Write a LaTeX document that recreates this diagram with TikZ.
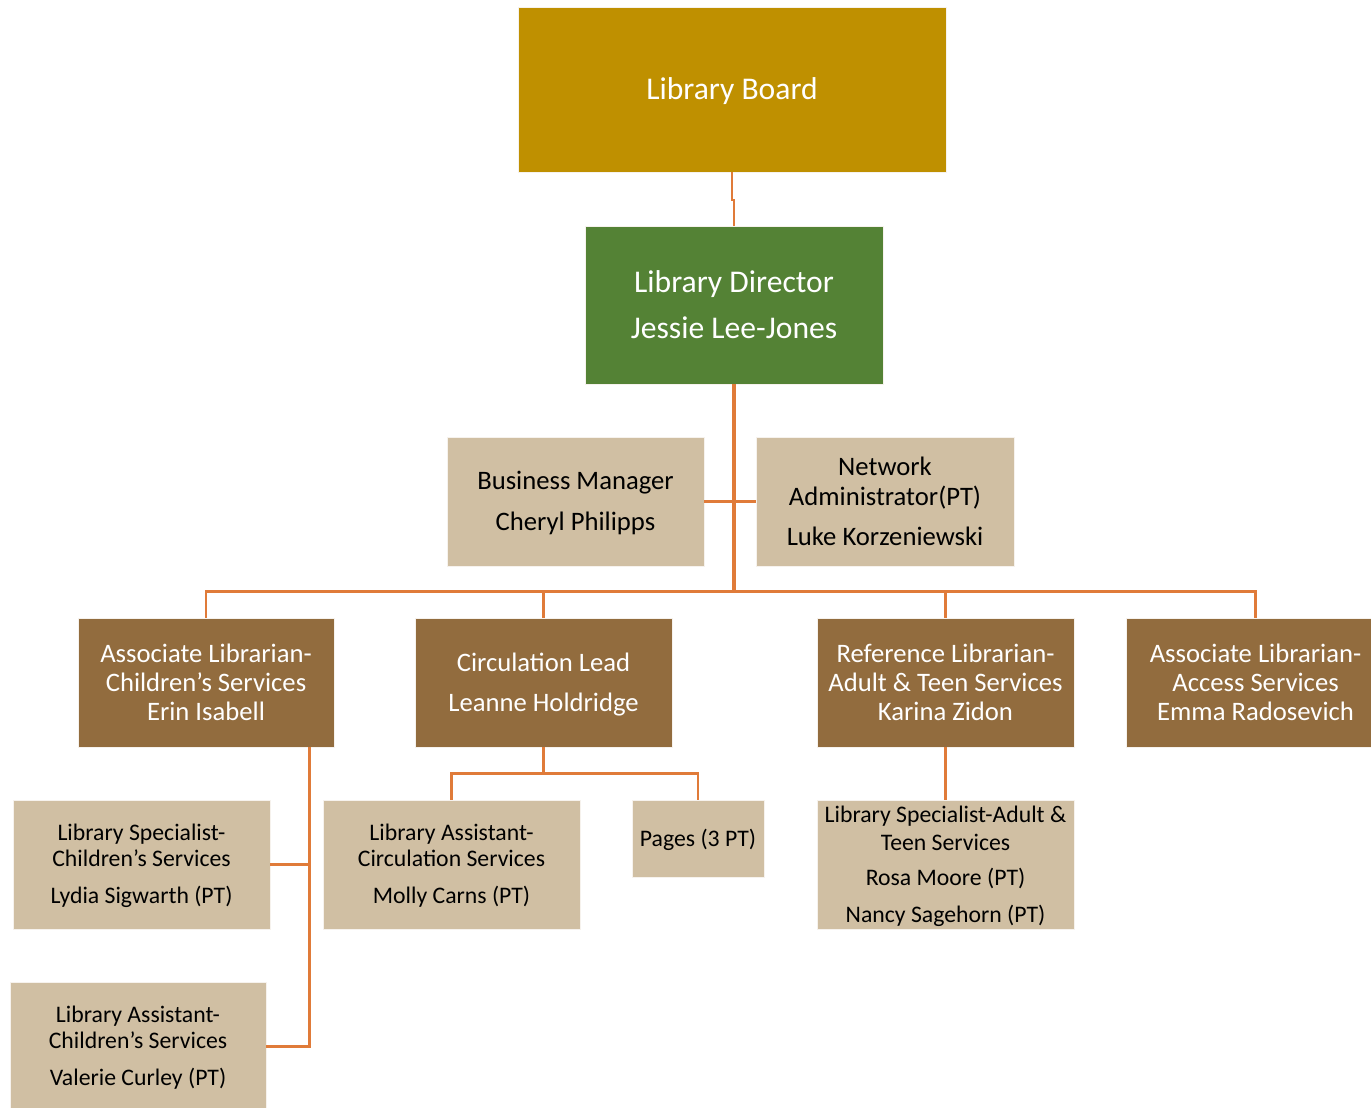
\documentclass[tikz,border=0pt]{standalone}
\usepackage{fontspec}
\setmainfont{Carlito}
\definecolor{boardgold}{HTML}{BF9000}
\definecolor{dirgreen}{HTML}{548235}
\definecolor{leadbrown}{HTML}{926C3E}
\definecolor{stafftan}{HTML}{D0BFA3}
\definecolor{linkorange}{HTML}{E07B39}
% struts that give the first line a fixed height and the last line a fixed depth
\newcommand\topstrut{\rule{0pt}{0.92em}}
\newcommand\botstrut{\rule[-0.28em]{0pt}{0.28em}}
\tikzset{
  boxsize/.style 2 args={minimum width=#1*0.75pt, minimum height=#2*0.75pt},
  box/.style={rectangle, inner sep=0pt, align=center, draw=white!80!stafftan, line width=0.6pt},
  boardbox/.style={box, fill=boardgold, text=white, font=\fontsize{23.7}{25.8}\selectfont},
  dirbox/.style={box, fill=dirgreen, text=white, font=\fontsize{23.7}{25.8}\selectfont},
  leadbox/.style={box, fill=leadbrown, text=white, font=\fontsize{20}{21.75}\selectfont},
  staffbox/.style={box, fill=stafftan, text=black, font=\fontsize{20}{21.75}\selectfont},
  crewbox/.style={box, fill=stafftan, text=black, font=\fontsize{17.8}{19.4}\selectfont},
  link/.style={draw=linkorange, line width=2pt},
}
\begin{document}
\begin{tikzpicture}[x=0.75pt, y=-0.75pt]
\useasboundingbox (0,0) rectangle (1371,1107);

% top of the organisation
\node[boardbox, boxsize={428}{165}] (board) at (732,89.5) {\topstrut Library Board\botstrut};
\node[dirbox, boxsize={298}{158}] (director) at (734,305) {\topstrut Library Director\\[8.7pt]Jessie Lee-Jones\botstrut};

% staff reporting directly to the director
\node[staffbox, boxsize={257}{129}] (bm) at (575.5,501.5) {\topstrut Business Manager\\[9pt]Cheryl Philipps\botstrut};
\node[staffbox, boxsize={258}{129}] (net) at (885,501.5) {\topstrut Network\\[0.75pt]Administrator(PT)\\[8.25pt]Luke Korzeniewski\botstrut};

% department leads
\node[leadbox, boxsize={256}{129}] (a1) at (206,682.5) {\topstrut Associate Librarian-\\Children’s Services\\Erin Isabell\botstrut};
\node[leadbox, boxsize={257}{129}] (a2) at (543.5,682.5) {\topstrut Circulation Lead\\[8.25pt]Leanne Holdridge\botstrut};
\node[leadbox, boxsize={257}{129}] (a3) at (945.5,682.5) {\topstrut Reference Librarian-\\Adult \& Teen Services\\Karina Zidon\botstrut};
\node[leadbox, boxsize={259}{129}] (a4) at (1255.5,682.5) {\topstrut Associate Librarian-\\Access Services\\Emma Radosevich\botstrut};

% department staff
\node[crewbox, boxsize={257}{129}] (lyd) at (141.5,864.5) {\topstrut Library Specialist-\\Children’s Services\\[8.35pt]Lydia Sigwarth (PT)\botstrut};
\node[crewbox, boxsize={256}{129}] (val) at (138,1046.5) {\topstrut Library Assistant-\\Children’s Services\\[8.35pt]Valerie Curley (PT)\botstrut};
\node[crewbox, boxsize={257}{129}] (lac) at (451.5,864.5) {\topstrut Library Assistant-\\Circulation Services\\[8.35pt]Molly Carns (PT)\botstrut};
\node[crewbox, boxsize={132}{77}] (pages) at (698,838.5) {\topstrut Pages (3 PT)\botstrut};
\node[crewbox, boxsize={257}{129}] (lsa) at (945.5,864.5) {\topstrut Library Specialist-Adult \&\\[1.6pt]Teen Services\\[6.85pt]Rosa Moore (PT)\\[8.35pt]Nancy Sagehorn (PT)\botstrut};

% connectors
\draw[link, line width=1.5pt] (board.south) -- ++(0,28) -| (director.north);
\coordinate (bus) at (735,592);
\draw[link, line width=2.4pt] (director.south) -- (director.south |- bus);
\draw[link] (bm.east) -- (net.west);
\draw[link] (a1.north) -- ++(0,-26) -| (a4.north);
\draw[link] (a2.north) -- (a2.north |- bus);
\draw[link] (a3.north) -- (a3.north |- bus);

\coordinate (a1d) at ([xshift=-18.75pt]a1.south east);
\draw[link] (a1d) |- (val.east);
\draw[link] (lyd.east) -- (lyd.east -| a1d);

\draw[link] (a2.south) -- ++(0,26) -| (lac.north);
\draw[link] (a2.south) ++(0,26) -| (pages.north);

\draw[link, line width=2.6pt] (a3.south) -- (lsa.north);
\end{tikzpicture}
\end{document}
